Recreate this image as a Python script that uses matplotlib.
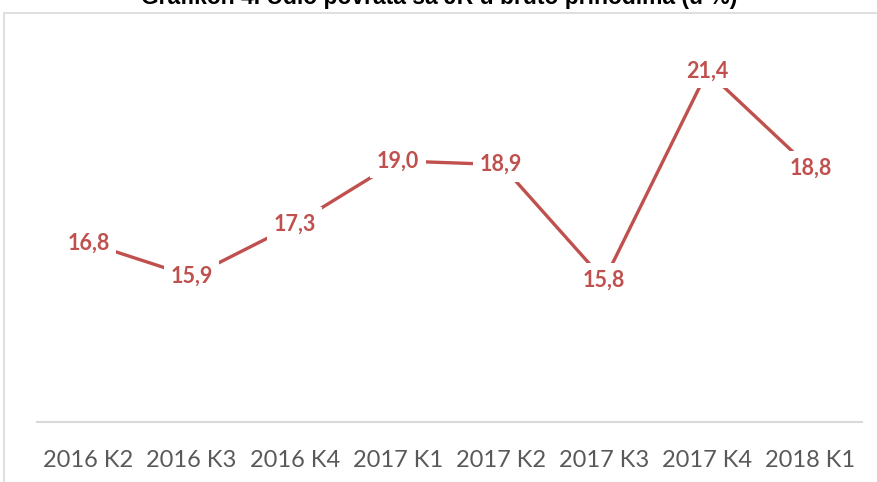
import matplotlib.pyplot as plt
from matplotlib.patches import Rectangle

quarters = ["2016 K2", "2016 K3", "2016 K4", "2017 K1", "2017 K2", "2017 K3", "2017 K4", "2018 K1"]
values = [16.8, 15.9, 17.3, 19.0, 18.9, 15.8, 21.4, 18.8]
labels = ["16,8", "15,9", "17,3", "19,0", "18,9", "15,8", "21,4", "18,8"]

W, H = 878, 482
fig = plt.figure(figsize=(W / 100, H / 100), dpi=100, facecolor="white")

# chart area border (cut off at the right and bottom)
fig.patches.append(Rectangle((4 / W, -0.1), 1.0, (H - 13) / H + 0.1, transform=fig.transFigure,
                             facecolor="none", edgecolor="#D9D9D9", linewidth=1.2))

ax = fig.add_axes([37 / W, 60 / H, 825 / W, 373 / H])
x = list(range(len(quarters)))
red = "#C0504D"
ax.plot(x, values, color=red, linewidth=2.4, solid_capstyle="butt", zorder=2)
for xi, v, lab in zip(x, values, labels):
    ax.text(xi, v, lab, ha="center", va="center", color=red, fontsize=15.5,
            fontweight="bold", family="Lato", zorder=3,
            bbox=dict(boxstyle="square,pad=0.3", facecolor="white", edgecolor="none"))

ax.set_xlim(-0.5, 7.5)
ax.set_ylim(12, 22)
ax.set_yticks([])
ax.set_xticks(x)
ax.set_xticklabels(quarters, color="#595959", fontsize=17, family="Lato")
ax.tick_params(axis="x", length=0, pad=20)
for s in ["top", "right", "left"]:
    ax.spines[s].set_visible(False)
ax.spines["bottom"].set_color("#D9D9D9")
ax.spines["bottom"].set_linewidth(1.5)
ax.patch.set_alpha(0)

fig.text(0.5, 1 - 4 / H, "Grafikon 4. Udio povrata sa JR u bruto prihodima (u %)", ha="center", va="baseline",
         fontsize=16.5, fontweight="bold", family="Liberation Sans", color="black")

fig.savefig("out.png", dpi=100)
